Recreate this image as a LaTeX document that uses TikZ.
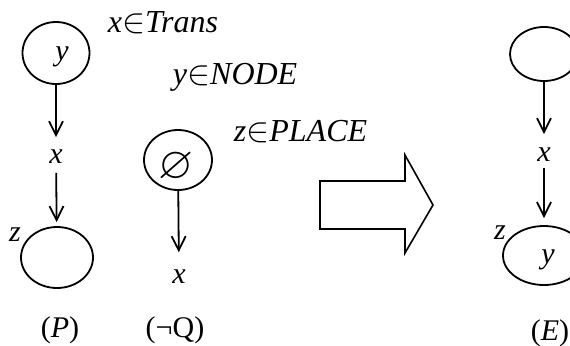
\documentclass[tikz,border=0pt]{standalone}
\usepackage{fontspec}
\setmainfont{Liberation Serif}
\usepackage{amssymb}
\usetikzlibrary{shapes.geometric,arrows.meta}

\begin{document}
\begin{tikzpicture}[x=0.5pt,y=-0.5pt,line width=0.9pt,
  place/.style={draw,ellipse,inner sep=0pt},
  lbl/.style={inner sep=0pt,font=\fontsize{15}{18}\selectfont},
  cond/.style={anchor=west,inner sep=0pt,font=\fontsize{16}{19}\selectfont},
  flow/.style={-{Straight Barb[length=7pt,width=7pt]}}]
\useasboundingbox (0,0) rectangle (570,345);

% pattern P
\node[place,minimum width=33.5pt,minimum height=31pt] (py) at (56,53) {};
\node[lbl] (pyl) at (62,57) {\textit{y}};
\node[lbl] (px) at (56,157) {\textit{x}};
\node[place,minimum width=36pt,minimum height=30.5pt] (pz) at (57,257.5) {};
\node[lbl] (pzl) at (15,235) {\textit{z}};
\draw[flow,shorten >=6pt] (py) -- (px);
\draw[flow,shorten <=4pt,shorten >=2pt] (px) -- (pz);
\node[lbl] (pname) at (60,330) {(\textit{P})};

% negative pattern Q
\node[place,minimum width=34pt,minimum height=30pt] (qe) at (178,160) {};
\node[lbl] (qel) at (176,167) {\scalebox{1.5}{$\varnothing$}};
\node[lbl] (qx) at (179,277) {\textit{x}};
\draw[flow,shorten >=8.5pt] (qe) -- (qx);
\node[lbl] (qname) at (175,330) {(¬Q)};

% conditions
\node[cond] (ctrans) at (107,23) {\textit{x}$\in$\textit{Trans}};
\node[cond] (cnode) at (172,77) {\textit{y}$\in$\textit{NODE}};
\node[cond] (cplace) at (233,132) {\textit{z}$\in$\textit{PLACE}};

% rewrite arrow
\draw[line width=0.8pt] (320,181) -- (405,181) -- (405,155) -- (433,205)
  -- (405,253) -- (405,229) -- (320,229) -- cycle;

% effect E
\node[place,minimum width=34pt,minimum height=27pt] (et) at (544,54) {};
\node[lbl] (ex) at (544,155) {\textit{x}};
\node[place,minimum width=41pt,minimum height=29.5pt] (ez) at (544,255.5) {};
\node[lbl] (ezl) at (500,233) {\textit{z}};
\node[lbl] (eyl) at (548,260) {\textit{y}};
\draw[flow,shorten >=6.5pt] (et) -- (ex);
\draw[flow,shorten <=2.5pt,shorten >=3.5pt] (ex) -- (ez);
\node[lbl] (ename) at (550,333) {(\textit{E})};
\end{tikzpicture}
\end{document}
